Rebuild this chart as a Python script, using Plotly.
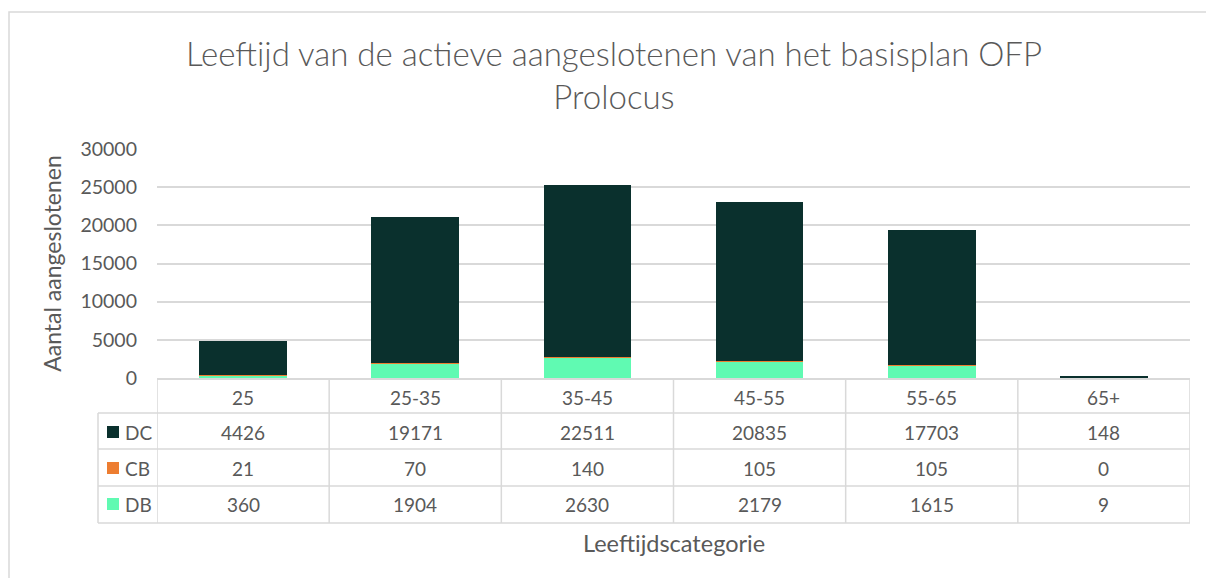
import plotly.graph_objects as go

categories = ["25", "25-35", "35-45", "45-55", "55-65", "65+"]
dc_values = [4426, 19171, 22511, 20835, 17703, 148]
cb_values = [21, 70, 140, 105, 105, 0]
db_values = [360, 1904, 2630, 2179, 1615, 9]
series_colors = {"DC": "#0A302D", "CB": "#ED7D31", "DB": "#60FAB2"}
y_ticks = [0, 5000, 10000, 15000, 20000, 25000, 30000]

OFF = 8  # browser body margin
VW, VH = 1214, 578
W, H = VW - OFF, VH - OFF
# plot area in reference (viewport) pixels
PL, PR, PT, PB = 157, 1190, 149, 378
ML, MR, MT, MB = PL - OFF, W - (PR - OFF), PT - OFF, H - (PB - OFF)
PW = PR - PL
PH = PB - PT
FONT = "Lato"
TXT = "#595959"
GRID = "#D9D9D9"

def py(p):  # viewport pixel y -> paper y
    return (PB - p) / PH

def px(p):  # viewport pixel x -> paper x
    return (p - PL) / PW

fig = go.Figure()
series_vals = {"DB": db_values, "CB": cb_values, "DC": dc_values}
for name in ["DB", "CB", "DC"]:
    fig.add_trace(go.Bar(
        x=categories, y=series_vals[name], name=name,
        marker=dict(color=series_colors[name], line=dict(width=0)),
        showlegend=False,
    ))

shapes = []
annotations = []
line_style = dict(color=GRID, width=1.5)

row_lines = [413, 449, 486, 523]
row_centers = [432, 468, 504]
header_center = 397
table_top = 379
label_left = 98
VAL_SIZE = 19

n = len(categories)
for i in range(n + 1):
    shapes.append(dict(type="line", xref="x", yref="paper",
                       x0=i - 0.5, x1=i - 0.5, y0=py(table_top), y1=py(row_lines[-1]),
                       line=line_style))
shapes.append(dict(type="line", xref="paper", yref="paper",
                   x0=px(label_left), x1=px(label_left),
                   y0=py(row_lines[0]), y1=py(row_lines[-1]), line=line_style))
for r in row_lines:
    shapes.append(dict(type="line", xref="paper", yref="paper",
                       x0=px(label_left), x1=1, y0=py(r), y1=py(r), line=line_style))

for i, c in enumerate(categories):
    annotations.append(dict(x=i, y=py(header_center), xref="x", yref="paper",
                            xanchor="center", yanchor="middle",
                            text=c, showarrow=False,
                            font=dict(family=FONT, size=VAL_SIZE, color=TXT)))

rows = [("DC", dc_values), ("CB", cb_values), ("DB", db_values)]
for (name, vals), rc in zip(rows, row_centers):
    for i, v in enumerate(vals):
        annotations.append(dict(x=i, y=py(rc), xref="x", yref="paper",
                                xanchor="center", yanchor="middle",
                                text=str(v), showarrow=False,
                                font=dict(family=FONT, size=VAL_SIZE, color=TXT)))
    shapes.append(dict(type="rect", xref="paper", yref="paper",
                       x0=px(107), x1=px(119), y0=py(rc + 6), y1=py(rc - 6),
                       fillcolor=series_colors[name], line=dict(width=0)))
    annotations.append(dict(x=px(123), y=py(rc), xref="paper", yref="paper",
                            xanchor="left", yanchor="middle", text=name, showarrow=False,
                            font=dict(family=FONT, size=VAL_SIZE, color=TXT)))

annotations.append(dict(x=0.5, y=py(543), xref="paper", yref="paper",
                        xanchor="center", yanchor="middle",
                        text="Leeftijdscategorie", showarrow=False,
                        font=dict(family=FONT, size=23.5, color=TXT)))

shapes.append(dict(type="rect", xref="paper", yref="paper",
                   x0=px(OFF + 1), x1=px(VW + 10), y0=py(12), y1=py(VH + 10),
                   line=dict(color=GRID, width=1.5), fillcolor="rgba(0,0,0,0)", layer="below"))

fig.update_layout(
    width=W, height=H,
    margin=dict(l=ML, r=MR, t=MT, b=MB),
    paper_bgcolor="white", plot_bgcolor="white",
    barmode="stack", bargap=0.49,
    title=dict(text="Leeftijd van de actieve aangeslotenen van het basisplan OFP<br>Prolocus",
               x=(614 - OFF) / W, xanchor="center", xref="container",
               y=1 - (66 - OFF) / H, yanchor="middle", yref="container",
               font=dict(family=FONT, size=33, color=TXT, weight=300)),
    xaxis=dict(type="category", showticklabels=False, ticks="", showgrid=False, zeroline=False,
               showline=True, linecolor=GRID, linewidth=1.5,
               range=[-0.5, n - 0.5]),
    yaxis=dict(range=[0, 30000], tickvals=y_ticks, ticktext=[str(t) for t in y_ticks],
               showgrid=True, gridcolor=GRID, gridwidth=1.5, zeroline=False,
               showline=False, ticks="", ticklabelstandoff=19,
               tickfont=dict(family=FONT, size=19.5, color=TXT),
               title=dict(text="Aantal aangeslotenen", standoff=12,
                          font=dict(family=FONT, size=23, color=TXT))),
    shapes=shapes, annotations=annotations,
)

fig.write_html("out.html")
